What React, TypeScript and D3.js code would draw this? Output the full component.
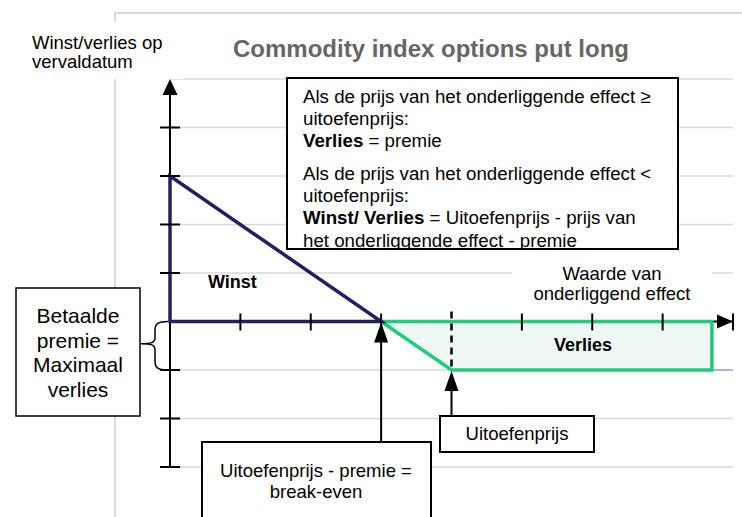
import React, { useEffect, useRef } from 'react';
import * as d3 from 'd3';

const title = 'Commodity index options put long';
const yLabel = ['Winst/verlies op', 'vervaldatum'];
const xLabel = ['Waarde van', 'onderliggend effect'];
const infoLines = [
  { bold: '', text: 'Als de prijs van het onderliggende effect ≥' },
  { bold: '', text: 'uitoefenprijs:' },
  { bold: 'Verlies', text: ' = premie' },
  { bold: '', text: 'Als de prijs van het onderliggende effect <' },
  { bold: '', text: 'uitoefenprijs:' },
  { bold: 'Winst/ Verlies', text: ' = Uitoefenprijs - prijs van' },
  { bold: '', text: 'het onderliggende effect - premie' },
];
const premieLines = ['Betaalde', 'premie =', 'Maximaal', 'verlies'];
const breakEvenLines = ['Uitoefenprijs - premie =', 'break-even'];

// option values (price units / payoff units)
const strike = 4;
const premie = 1;
const breakEven = 3;

const priceTicks = [1, 2, 3, 5, 6, 7, 8];
const payoffTicks = [-3, -2, -1, 1, 2, 3, 4];
const gridLevels = [-3, -2, -1, 1, 2, 3, 4, 5];

// winst triangle and verlies area
const winstPrice = [0, 3, 0];
const winstValue = [3, 0, 0];
const verliesPrice = [3, 4, 7.7, 7.7];
const verliesValue = [0, -1, -1, 0];
const tailPrice = [7.7, 8];
const tailValue = [-1, -1];

const FONT = '"Liberation Sans", Arial, sans-serif';

function PutChart() {
  const svgRef = useRef<SVGSVGElement>(null);

  useEffect(() => {
    const svg = d3.select(svgRef.current);
    svg.selectAll('*').remove();

    const width = 742;
    const height = 517;
    svg.attr('width', width).attr('height', height);

    const x = d3.scaleLinear().domain([0, 8]).range([170, 733]);
    const y = d3.scaleLinear().domain([-3, 5]).range([467, 79]);

    const grid = '#d9d9d9';

    // outer chart border
    svg.append('path')
      .attr('d', `M115,${height} L115,13 L${width},13`)
      .attr('fill', 'none').attr('stroke', grid).attr('stroke-width', 2);

    // gridlines
    svg.append('g').selectAll('line').data(gridLevels).join('line')
      .attr('x1', x(0)).attr('x2', x(8))
      .attr('y1', (d) => y(d)).attr('y2', (d) => y(d))
      .attr('stroke', grid).attr('stroke-width', 1.5);

    // y label with white background
    svg.append('rect').attr('x', 25).attr('y', 22).attr('width', 158).attr('height', 57).attr('fill', '#fff');
    const yl = svg.append('text').attr('font-family', FONT).attr('font-size', 18.5).attr('fill', '#000');
    yLabel.forEach((t, i) => yl.append('tspan').attr('x', 32).attr('y', 49 + i * 19).text(t));

    // title
    svg.append('text').attr('x', 431).attr('y', 57).attr('text-anchor', 'middle')
      .attr('font-family', FONT).attr('font-size', 24).attr('font-weight', 'bold')
      .attr('fill', '#666').text(title);

    // info box
    svg.append('clipPath').attr('id', 'infoClip').append('rect')
      .attr('x', 287).attr('y', 78).attr('width', 391).attr('height', 171);
    svg.append('rect').attr('x', 287).attr('y', 78).attr('width', 391).attr('height', 171)
      .attr('fill', '#fff').attr('stroke', '#000').attr('stroke-width', 2);
    const info = svg.append('g').attr('clip-path', 'url(#infoClip)');
    const baselines = [103, 125, 147, 180, 202, 224, 247];
    infoLines.forEach((l, i) => {
      const t = info.append('text').attr('x', 303).attr('y', baselines[i])
        .attr('font-family', FONT).attr('font-size', 18.7).attr('fill', '#000');
      if (l.bold) t.append('tspan').attr('font-weight', 'bold').text(l.bold);
      t.append('tspan').text(l.text);
    });

    // x label with white background
    svg.append('rect').attr('x', 512).attr('y', 262).attr('width', 200).attr('height', 44).attr('fill', '#fff');
    const xl = svg.append('text').attr('font-family', FONT).attr('font-size', 18.5)
      .attr('text-anchor', 'middle').attr('fill', '#000');
    xLabel.forEach((t, i) => xl.append('tspan').attr('x', 612).attr('y', 280 + i * 20).text(t));

    // axes
    svg.append('line').attr('x1', x(0)).attr('x2', x(0)).attr('y1', y(-3)).attr('y2', y(5) + 10)
      .attr('stroke', '#000').attr('stroke-width', 2);
    svg.append('path')
      .attr('d', `M${x(0)},${y(5)} L${x(0) - 7.5},${y(5) + 16} L${x(0) + 7.5},${y(5) + 16} Z`)
      .attr('fill', '#000');
    svg.append('line').attr('x1', x(0)).attr('x2', x(8)).attr('y1', y(0)).attr('y2', y(0))
      .attr('stroke', '#000').attr('stroke-width', 2);
    svg.append('path')
      .attr('d', `M${x(8)},${y(0)} L${x(8) - 16},${y(0) - 7} L${x(8) - 16},${y(0) + 7} Z`)
      .attr('fill', '#000');

    const poly = (px: number[], py: number[], close: boolean) =>
      (close ? d3.line().curve(d3.curveLinearClosed) : d3.line())(
        px.map((p, i) => [x(p), y(py[i])] as [number, number])
      );

    // tail of the payoff line
    svg.append('path').attr('d', poly(tailPrice, tailValue, false))
      .attr('fill', 'none').attr('stroke', '#8eaadb').attr('stroke-width', 1.5);

    // verlies area
    svg.append('path').attr('d', poly(verliesPrice, verliesValue, true))
      .attr('fill', '#eef7f3').attr('stroke', '#1fcc7c').attr('stroke-width', 3.5)
      .attr('stroke-linejoin', 'miter');

    // winst triangle
    svg.append('path').attr('d', poly(winstPrice, winstValue, true))
      .attr('fill', 'none').attr('stroke', '#241f5e').attr('stroke-width', 3.5)
      .attr('stroke-linejoin', 'miter');

    // ticks
    svg.append('g').selectAll('line').data(payoffTicks).join('line')
      .attr('x1', x(0) - 10).attr('x2', x(0) + 10)
      .attr('y1', (d) => y(d)).attr('y2', (d) => y(d))
      .attr('stroke', '#000').attr('stroke-width', 2);
    svg.append('g').selectAll('line').data(priceTicks).join('line')
      .attr('x1', (d) => x(d)).attr('x2', (d) => x(d))
      .attr('y1', y(0) - 8).attr('y2', y(0) + 9)
      .attr('stroke', '#000').attr('stroke-width', 2);
    svg.append('line').attr('x1', x(strike)).attr('x2', x(strike))
      .attr('y1', y(0) - 10).attr('y2', y(-premie))
      .attr('stroke', '#000').attr('stroke-width', 2.5).attr('stroke-dasharray', '7,5');

    // brace for premie
    const bt = y(0);
    const bb = y(-premie);
    const bm = (bt + bb) / 2 - 2;
    svg.append('path')
      .attr('d', `M168,${bt} C158,${bt} 155,${bt + 2} 155,${bt + 9} L155,${bm - 6} C155,${bm - 1} 151,${bm} 141,${bm}`
        + ` C151,${bm} 155,${bm + 1} 155,${bm + 6} L155,${bb - 9} C155,${bb - 2} 158,${bb} 168,${bb}`)
      .attr('fill', 'none').attr('stroke', '#000').attr('stroke-width', 1.5);

    // premie box
    svg.append('rect').attr('x', 16).attr('y', 288).attr('width', 124).attr('height', 128)
      .attr('fill', '#fff').attr('stroke', '#000').attr('stroke-width', 1.5);
    premieLines.forEach((t, i) => {
      svg.append('text').attr('x', 78).attr('y', 323 + i * 24.5).attr('text-anchor', 'middle')
        .attr('font-family', FONT).attr('font-size', 21).attr('fill', '#000').text(t);
    });

    // arrows pointing to break-even and strike
    const arrowUp = (px: number, tipY: number, fromY: number) => {
      svg.append('line').attr('x1', px).attr('x2', px).attr('y1', fromY).attr('y2', tipY + 15)
        .attr('stroke', '#000').attr('stroke-width', 2);
      svg.append('path')
        .attr('d', `M${px},${tipY} L${px - 7},${tipY + 20} L${px + 7},${tipY + 20} Z`)
        .attr('fill', '#000');
    };
    arrowUp(x(breakEven), y(0) + 1, 442);
    arrowUp(x(strike), y(-premie) + 1, 416);

    // break-even box
    svg.append('rect').attr('x', 202).attr('y', 442).attr('width', 229).attr('height', 90)
      .attr('fill', '#fff').attr('stroke', '#000').attr('stroke-width', 2);
    breakEvenLines.forEach((t, i) => {
      svg.append('text').attr('x', 316).attr('y', 477 + i * 21).attr('text-anchor', 'middle')
        .attr('font-family', FONT).attr('font-size', 18.5).attr('fill', '#000').text(t);
    });

    // strike box
    svg.append('rect').attr('x', 440).attr('y', 416).attr('width', 154).attr('height', 36)
      .attr('fill', '#fff').attr('stroke', '#000').attr('stroke-width', 2);
    svg.append('text').attr('x', 517).attr('y', 440).attr('text-anchor', 'middle')
      .attr('font-family', FONT).attr('font-size', 18.5).attr('fill', '#000').text('Uitoefenprijs');

    // area labels
    svg.append('text').attr('x', 208).attr('y', 288)
      .attr('font-family', FONT).attr('font-size', 18).attr('font-weight', 'bold').text('Winst');
    svg.append('text').attr('x', 583).attr('y', 351).attr('text-anchor', 'middle')
      .attr('font-family', FONT).attr('font-size', 18).attr('font-weight', 'bold').text('Verlies');
  }, []);

  return <svg ref={svgRef} style={{ position: 'absolute', left: 0, top: 0 }}></svg>;
}

export default function App() {
  return <PutChart />;
}
